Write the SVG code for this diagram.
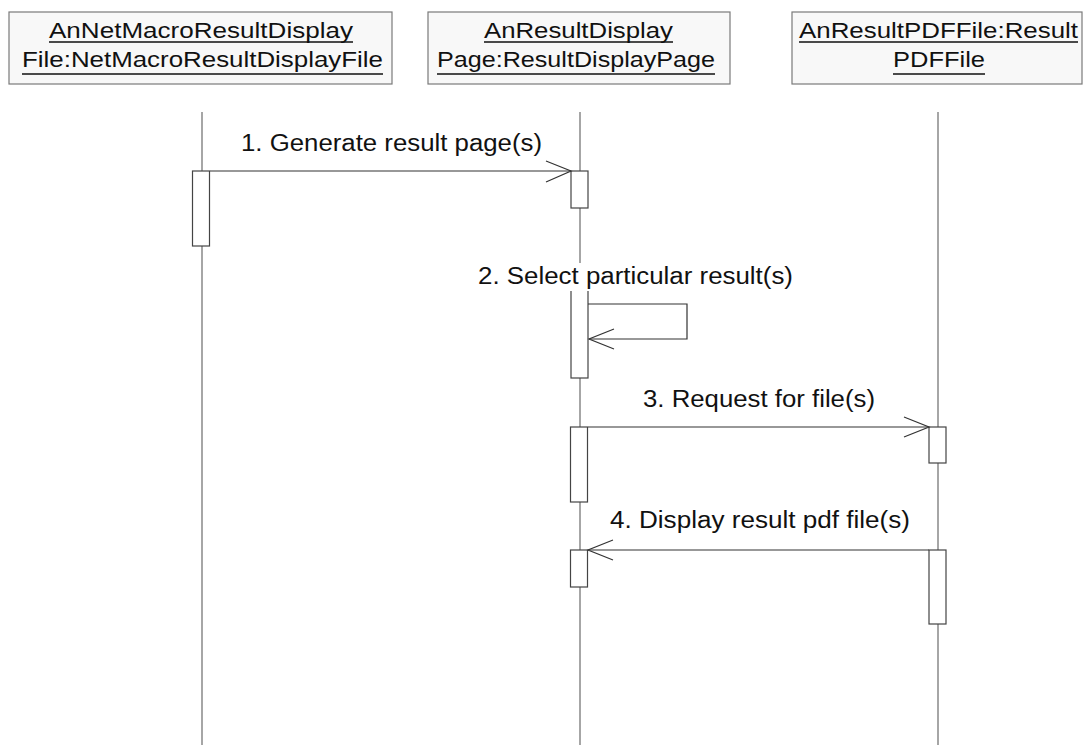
<svg xmlns="http://www.w3.org/2000/svg" width="1085" height="745" viewBox="0 0 1085 745">
<style>
.obj{fill:#f8f8f8;stroke:#7a7a7a;stroke-width:1.2}
.hdr{font-family:"Liberation Sans",Arial,sans-serif;font-size:22px;fill:#111}
.ul{stroke:#111;stroke-width:1.5}
.life{stroke:#888;stroke-width:1.5;fill:none}
.act{fill:#fff;stroke:#444;stroke-width:1.2}
.msg{stroke:#333;stroke-width:1.2;fill:none}
.lbl{font-family:"Liberation Sans",Arial,sans-serif;font-size:23px;fill:#111}
.bg{fill:#fff}
</style>
<rect width="1085" height="745" fill="#fff"/>
<g id="lifelines">
<line class="life" x1="202" y1="112" x2="202" y2="745"/>
<line class="life" x1="580" y1="112" x2="580" y2="745"/>
<line class="life" x1="938" y1="112" x2="938" y2="745"/>
</g>
<g id="obj1">
<rect class="obj" x="9" y="12" width="383" height="72"/>
<text class="hdr" x="49" y="38" textLength="304" lengthAdjust="spacingAndGlyphs">AnNetMacroResultDisplay</text>
<line class="ul" x1="49" y1="42" x2="353" y2="42"/>
<text class="hdr" x="22" y="67" textLength="361" lengthAdjust="spacingAndGlyphs">File:NetMacroResultDisplayFile</text>
<line class="ul" x1="22" y1="74" x2="383" y2="74"/>
</g>
<g id="obj2">
<rect class="obj" x="428" y="12" width="302" height="72"/>
<text class="hdr" x="484" y="38" textLength="189" lengthAdjust="spacingAndGlyphs">AnResultDisplay</text>
<line class="ul" x1="484" y1="42" x2="673" y2="42"/>
<text class="hdr" x="437" y="67" textLength="278" lengthAdjust="spacingAndGlyphs">Page:ResultDisplayPage</text>
<line class="ul" x1="437" y1="74" x2="715" y2="74"/>
</g>
<g id="obj3">
<rect class="obj" x="792" y="12" width="290" height="72"/>
<text class="hdr" x="799" y="38" textLength="279" lengthAdjust="spacingAndGlyphs">AnResultPDFFile:Result</text>
<line class="ul" x1="799" y1="42" x2="1078" y2="42"/>
<text class="hdr" x="893" y="67" textLength="92" lengthAdjust="spacingAndGlyphs">PDFFile</text>
<line class="ul" x1="893" y1="74" x2="985" y2="74"/>
</g>
<g id="activations">
<rect class="act" x="192.5" y="171" width="17" height="75"/>
<rect class="act" x="571" y="171" width="17" height="37"/>
<rect class="act" x="571" y="280" width="17" height="98"/>
<rect class="act" x="570.5" y="427" width="17" height="75"/>
<rect class="act" x="929" y="427" width="17" height="36"/>
<rect class="act" x="570.5" y="550" width="17" height="37"/>
<rect class="act" x="929" y="550" width="17" height="74"/>
</g>
<g id="connectors">
<line class="msg" x1="210" y1="171" x2="571" y2="171"/>
<polyline class="msg" points="546,161 571,171 546,182"/>
<polyline class="msg" points="588,304 687,304 687,339 589,339"/>
<polyline class="msg" points="614,329 589,339 614,349"/>
<line class="msg" x1="588" y1="427" x2="929" y2="427"/>
<polyline class="msg" points="904,417 929,427 904,437"/>
<line class="msg" x1="929" y1="550" x2="588" y2="550"/>
<polyline class="msg" points="613,540 588,550 613,560"/>
</g>
<g id="labels">
<text class="lbl" x="241" y="151" textLength="301" lengthAdjust="spacingAndGlyphs">1. Generate result page(s)</text>
<rect class="bg" x="476" y="263" width="320" height="28"/>
<text class="lbl" x="478" y="284" textLength="315" lengthAdjust="spacingAndGlyphs">2. Select particular result(s)</text>
<text class="lbl" x="643" y="407" textLength="232" lengthAdjust="spacingAndGlyphs">3. Request for file(s)</text>
<text class="lbl" x="610" y="528" textLength="300" lengthAdjust="spacingAndGlyphs">4. Display result pdf file(s)</text>
</g>
</svg>
